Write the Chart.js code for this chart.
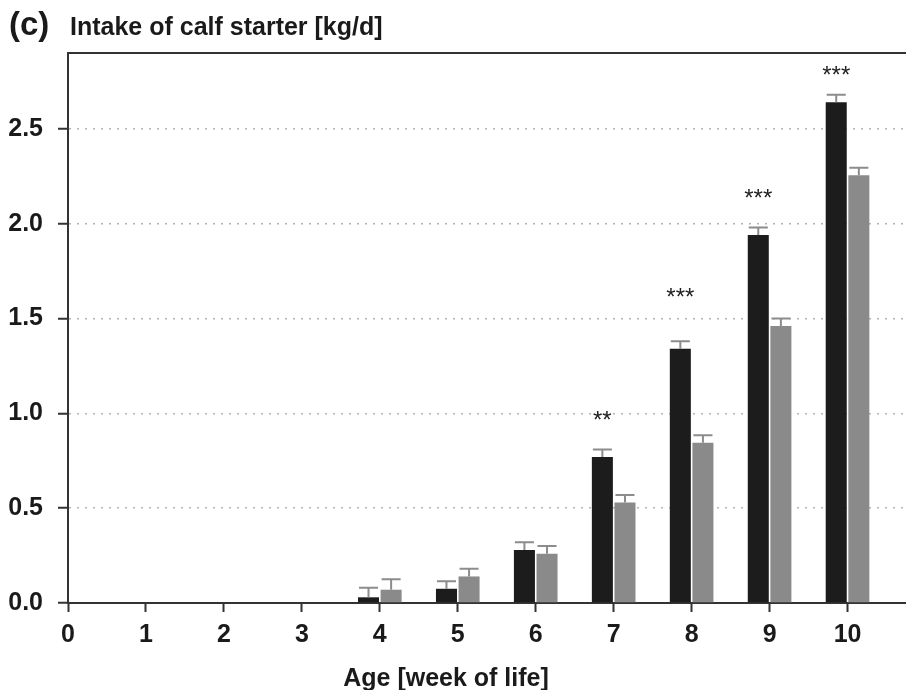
<!DOCTYPE html>
<html>
<head>
<meta charset="utf-8">
<script src="https://cdn.jsdelivr.net/npm/chart.js@4.4.1/dist/chart.umd.min.js"></script>
<style>
  body { margin: 0; background: #fff; }
  #wrap { width: 906px; height: 690px; position: relative; }
</style>
</head>
<body>
<div id="wrap"><canvas id="chartjs"></canvas></div>
<script>
const ctx = document.getElementById("chartjs");

// weeks of life that have bars
const weeks = [4, 5, 6, 7, 8, 9, 10];
const groupA = [0.03, 0.075, 0.28, 0.77, 1.34, 1.94, 2.64];
const groupB = [0.07, 0.14, 0.26, 0.53, 0.845, 1.46, 2.255];
const errA = [0.05, 0.04, 0.04, 0.04, 0.04, 0.04, 0.04];
const errB = [0.055, 0.04, 0.04, 0.04, 0.04, 0.04, 0.04];

// significance marks
const sigWeeks = [7, 8, 9, 10];
const sigText = ['**', '***', '***', '***'];
const sigLevel = [0.99, 1.64, 2.16, 2.81];

const xTicks = [0, 1, 2, 3, 4, 5, 6, 7, 8, 9, 10];
const yTicks = [0, 0.5, 1.0, 1.5, 2.0, 2.5];

const FONT = 'Liberation Sans, Arial, sans-serif';
const AXIS = '#333333';

const toPoints = (vals) => weeks.map((w, i) => ({ x: w, y: vals[i] }));

const errorBars = {
    id: 'errorBars',
    afterDatasetsDraw(chart) {
        const c = chart.ctx;
        const yScale = chart.scales.y;
        const errs = [errA, errB];
        c.save();
        c.strokeStyle = '#8c8c8c';
        c.lineWidth = 2;
        chart.data.datasets.forEach((ds, i) => {
            const meta = chart.getDatasetMeta(i);
            meta.data.forEach((bar, j) => {
                const top = yScale.getPixelForValue(ds.data[j].y + errs[i][j]);
                const half = bar.width / 2 - 1;
                c.beginPath();
                c.moveTo(bar.x, bar.y);
                c.lineTo(bar.x, top);
                c.moveTo(bar.x - half, top);
                c.lineTo(bar.x + half, top);
                c.stroke();
            });
        });

        // asterisks over the first bar of each group
        const meta0 = chart.getDatasetMeta(0);
        c.fillStyle = '#222';
        c.font = '24px ' + FONT;
        c.textAlign = 'center';
        c.textBaseline = 'alphabetic';
        sigWeeks.forEach((w, k) => {
            const bar = meta0.data[weeks.indexOf(w)];
            c.fillText(sigText[k], bar.x, yScale.getPixelForValue(sigLevel[k]) + 13);
        });
        c.restore();
    }
};

const labels = {
    id: 'labels',
    afterDraw(chart) {
        const c = chart.ctx;
        const area = chart.chartArea;
        c.save();
        // top frame line
        c.strokeStyle = AXIS;
        c.lineWidth = 2;
        c.beginPath();
        c.moveTo(area.left, area.top);
        c.lineTo(area.right, area.top);
        c.stroke();

        c.fillStyle = '#1a1a1a';
        c.textBaseline = 'alphabetic';
        c.textAlign = 'left';
        c.font = 'bold 33px ' + FONT;
        c.fillText('(c)', 9, 35);
        c.font = 'bold 25px ' + FONT;
        c.fillText('Intake of calf starter [kg/d]', 70, 35);
        c.textAlign = 'center';
        c.fillText('Age [week of life]', 446, 686);
        c.restore();
    }
};

const chart = new Chart(ctx, {
    type: 'bar',
    data: {
        datasets: [{
            label: 'Group A',
            data: toPoints(groupA),
            backgroundColor: '#1c1c1c',
            categoryPercentage: 0.58,
            barPercentage: 0.93
        }, {
            label: 'Group B',
            data: toPoints(groupB),
            backgroundColor: '#8a8a8a',
            categoryPercentage: 0.58,
            barPercentage: 0.93
        }]
    },
    options: {
        responsive: true,
        maintainAspectRatio: false,
        animation: false,
        layout: { padding: { top: 53, left: 0, right: 0, bottom: 0 } },
        plugins: {
            legend: { display: false },
            tooltip: { enabled: false }
        },
        scales: {
            x: {
                type: 'linear',
                offset: false,
                min: 0,
                max: 10.75,
                afterBuildTicks: (s) => { s.ticks = xTicks.map(v => ({ value: v })); },
                afterFit: (s) => { s.height = 87; },
                ticks: {
                    stepSize: 1,
                    padding: 8,
                    color: '#1a1a1a',
                    font: { family: FONT, size: 25, weight: 'bold' }
                },
                grid: {
                    offset: false,
                    drawOnChartArea: false,
                    tickLength: 9,
                    tickWidth: 2,
                    tickColor: AXIS
                },
                border: { color: AXIS, width: 2 }
            },
            y: {
                min: 0,
                max: 2.9,
                afterBuildTicks: (s) => { s.ticks = yTicks.map(v => ({ value: v })); },
                afterFit: (s) => { s.width = 68; },
                ticks: {
                    padding: 15,
                    color: '#1a1a1a',
                    font: { family: FONT, size: 25, weight: 'bold' },
                    callback: (v) => Number(v).toFixed(1)
                },
                grid: {
                    color: (c) => c.tick && c.tick.value === 0 ? 'rgba(0,0,0,0)' : '#b4b4b4',
                    lineWidth: 1.5,
                    tickLength: 10,
                    tickWidth: 2,
                    tickColor: AXIS,
                    tickBorderDash: []
                },
                border: { color: AXIS, width: 2, dash: [2, 6] }
            }
        }
    },
    plugins: [errorBars, labels]
});
</script>
</body>
</html>
